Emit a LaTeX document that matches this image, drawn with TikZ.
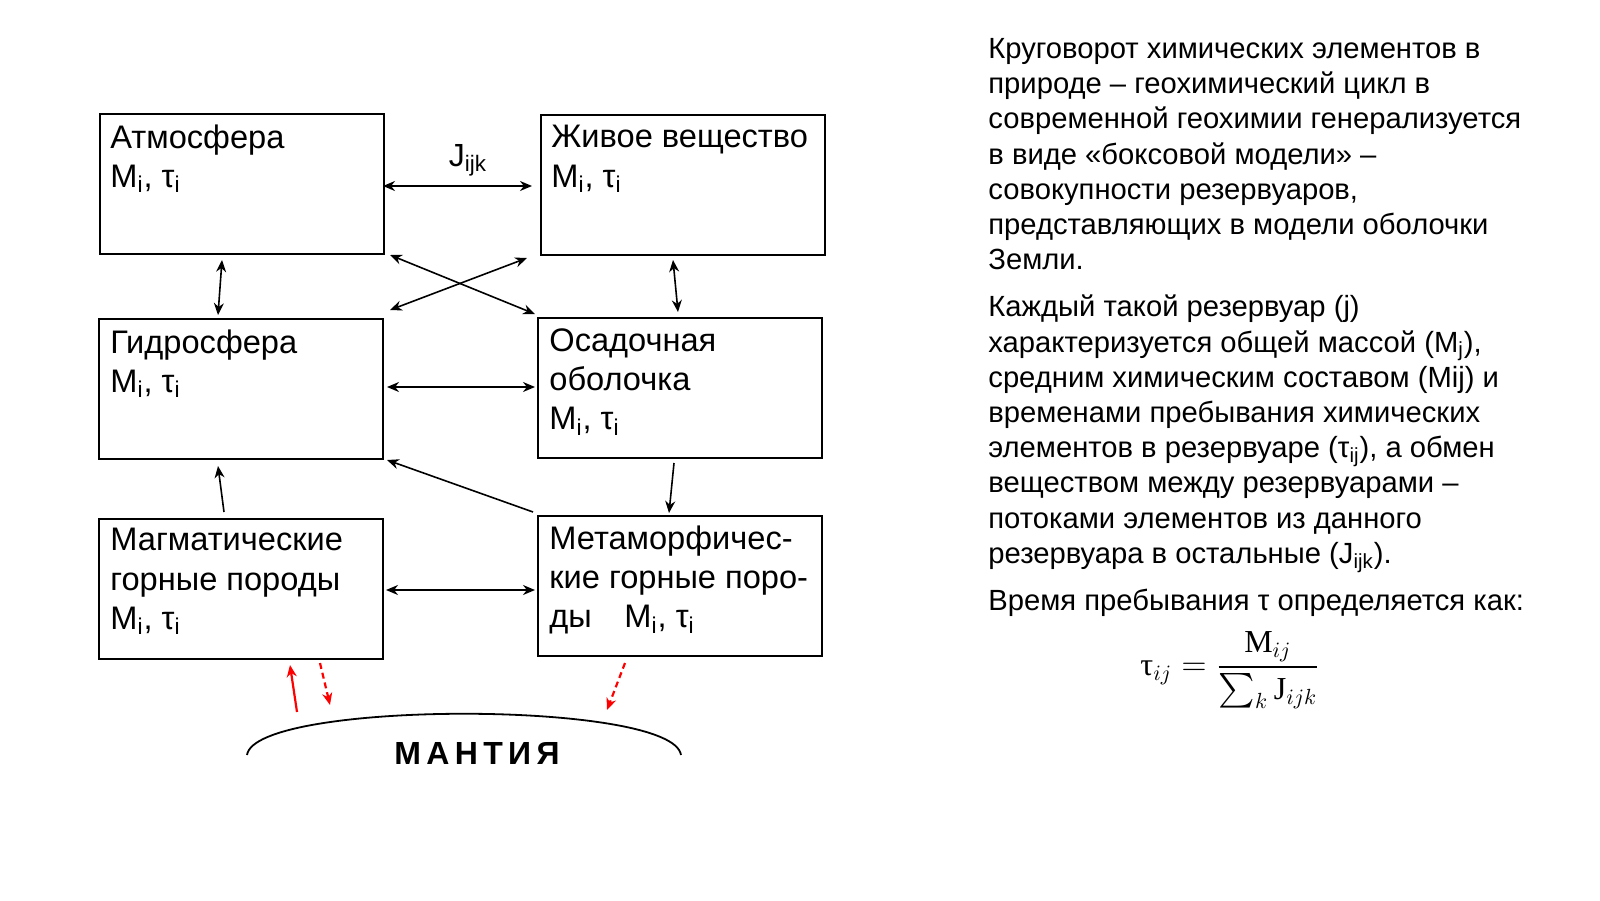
\documentclass[tikz,border=0pt]{standalone}
\usepackage{fontspec}
\usepackage{amsmath}
\setmainfont{Liberation Sans}
\newfontfamily\serifgr{Liberation Serif}
\usetikzlibrary{arrows.meta}
\begin{document}
\begin{tikzpicture}[x=0.5pt,y=-0.5pt,
  box/.style={draw,line width=0.8pt,minimum width=142pt,minimum height=70pt,anchor=north west,inner sep=0pt},
  btxt/.style={anchor=north west,align=left,font=\fontsize{16.3}{19.7}\selectfont,inner sep=0pt},
  ar/.style={-{Stealth[length=6pt,width=5pt]},line width=0.8pt},
  dar/.style={{Stealth[length=6pt,width=5pt]}-{Stealth[length=6pt,width=5pt]},line width=0.8pt},
  redar/.style={ar,draw=red,line width=1.1pt},
  reddash/.style={redar,dash pattern=on 3pt off 2pt}]
\node[box] (atm) at (99,113) {};
\node[box] (zhv) at (540,114) {};
\node[box] (gid) at (98,318) {};
\node[box] (osa) at (537,317) {};
\node[box] (mag) at (98,518) {};
\node[box] (met) at (537,515) {};
\node[btxt] (tatm) at (110,124) {Атмосфера\\M\textsubscript{i}, τ\textsubscript{i}};
\node[btxt] (tzhv) at (551,125) {Живое вещество\\M\textsubscript{i}, τ\textsubscript{i}};
\node[btxt] (tgid) at (110,329) {Гидросфера\\M\textsubscript{i}, τ\textsubscript{i}};
\node[btxt] (tosa) at (549,328) {Осадочная\\оболочка\\M\textsubscript{i}, τ\textsubscript{i}};
\node[btxt] (tmag) at (110,528) {Магматические\\горные породы\\M\textsubscript{i}, τ\textsubscript{i}};
\node[btxt] (tmet) at (549,525) {Метаморфичес-\\кие горные поро-\\ды\quad M\textsubscript{i}, τ\textsubscript{i}};
\node[font=\fontsize{16}{18}\selectfont] (j) at (468,160) {J\textsubscript{ijk}};
\coordinate (a1) at (383,186); \coordinate (a2) at (532,186);
\draw[dar] (a1) -- (a2);
\coordinate (b1) at (222,260); \coordinate (b2) at (218,315);
\draw[dar] (b1) -- (b2);
\coordinate (c1) at (390,255); \coordinate (c2) at (535,314);
\draw[dar] (c1) -- (c2);
\coordinate (d1) at (390,310); \coordinate (d2) at (527,258);
\draw[dar] (d1) -- (d2);
\coordinate (e1) at (673,260); \coordinate (e2) at (678,312);
\draw[dar] (e1) -- (e2);
\coordinate (f1) at (387,387); \coordinate (f2) at (535,387);
\draw[dar] (f1) -- (f2);
\coordinate (g1) at (224,512); \coordinate (g2) at (218,466);
\draw[ar] (g1) -- (g2);
\coordinate (h1) at (533,512); \coordinate (h2) at (387,460);
\draw[ar] (h1) -- (h2);
\coordinate (i1) at (674,463); \coordinate (i2) at (669,513);
\draw[ar] (i1) -- (i2);
\coordinate (k1) at (386,590); \coordinate (k2) at (535,590);
\draw[dar] (k1) -- (k2);
\coordinate (r1) at (297,712); \coordinate (r2) at (290,665);
\draw[redar] (r1) -- (r2);
\coordinate (s1) at (320,663); \coordinate (s2) at (330,705);
\draw[reddash] (s1) -- (s2);
\coordinate (t1) at (625,663); \coordinate (t2) at (607,710);
\draw[reddash] (t1) -- (t2);
\coordinate (m1) at (247,755); \coordinate (m2) at (681,755);
\draw[line width=0.9pt] (m1) .. controls (255,700) and (673,700) .. (m2);
\node[font=\bfseries\fontsize{16}{18}\selectfont] (mant) at (477,753) {М\,А\,Н\,Т\,И\,Я};
\node[anchor=north west,align=left,inner sep=0pt,font=\fontsize{14.6}{17.6}\selectfont] (txt) at (988,38) {%
Круговорот химических элементов в\\
природе – геохимический цикл в\\
современной геохимии генерализуется\\
в виде «боксовой модели» –\\
совокупности резервуаров,\\
представляющих в модели оболочки\\
Земли.\\[6pt]
Каждый такой резервуар (j)\\
характеризуется общей массой (M\textsubscript{j}),\\
средним химическим составом (Mij) и\\
временами пребывания химических\\
элементов в резервуаре (τ\textsubscript{ij}), а обмен\\
веществом между резервуарами –\\
потоками элементов из данного\\
резервуара в остальные (J\textsubscript{ijk}).\\[6pt]
Время пребывания τ определяется как:};
\node[font=\fontsize{16}{19}\selectfont] (form) at (1230,670) {$\text{\serifgr τ}_{ij} = \dfrac{\text{\serifgr M}_{ij}}{\sum_k \text{\serifgr J}_{ijk}}$};
\pgfresetboundingbox
\useasboundingbox (0,0) rectangle (1600,900);
\end{tikzpicture}
\end{document}
